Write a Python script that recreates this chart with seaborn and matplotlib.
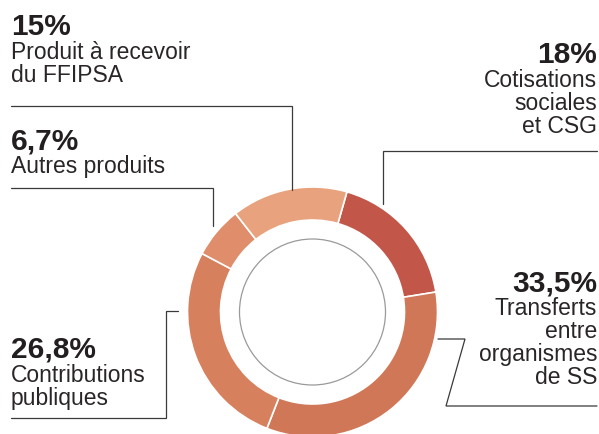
import matplotlib
matplotlib.use("Agg")
import matplotlib.pyplot as plt
import seaborn as sns

# Data
categories = ["Cotisations sociales et CSG", "Transferts entre organismes de SS",
              "Contributions publiques", "Autres produits", "Produit à recevoir du FFIPSA"]
values = [18.0, 33.5, 26.8, 6.7, 15.0]
pct_labels = ["18%", "33,5%", "26,8%", "6,7%", "15%"]
colors = ["#c25749", "#d07757", "#d7805d", "#df8d6a", "#e8a27d"]

sns.set_theme(style="white")
plt.rcParams['font.family'] = ['Liberation Sans', 'DejaVu Sans']

W, H = 599, 435
fig = plt.figure(figsize=(W / 100, H / 100), dpi=100)
ax = fig.add_axes([0, 0, 1, 1])

def Y(p):
    return H - p

cx, cy = 312.5, Y(313)
R_out, R_in = 125, 92
ax.pie(values, colors=sns.color_palette(colors), startangle=74, counterclock=False,
       radius=R_out, center=(cx, cy), frame=False,
       wedgeprops=dict(width=R_out - R_in, edgecolor="white", linewidth=1.2))
ax.add_patch(plt.Circle((cx, cy), 73, fill=False, edgecolor="#9a9a9a", linewidth=0.9))
ax.set_xlim(0, W)
ax.set_ylim(0, H)
ax.set_aspect("auto")
ax.axis("off")

line_kw = dict(color="#3a3a3a", linewidth=0.9, solid_joinstyle="miter")
def poly(pts):
    xs = [p[0] for p in pts]
    ys = [Y(p[1]) for p in pts]
    ax.plot(xs, ys, **line_kw)

poly([(11, 107), (292, 107), (292, 191)])
poly([(11, 189), (213, 189), (213, 227)])
poly([(597, 152), (383, 152), (383, 205)])
poly([(438, 340), (465, 340), (446, 407), (597, 407)])
poly([(178, 312), (166, 312), (166, 419), (11, 419)])

big = dict(fontsize=21.5, fontweight="bold", color="#231f20", va="baseline")
small = dict(fontsize=16.5, color="#2a2627", va="baseline")

def block(x, ha, pct, base, lines, step=23):
    ax.text(x, Y(base), pct, ha=ha, **big)
    for i, t in enumerate(lines):
        ax.text(x, Y(base + 24 + i * step), t, ha=ha, **small)

block(11, "left", pct_labels[4], 35, ["Produit à recevoir", "du FFIPSA"])
block(11, "left", pct_labels[3], 149, ["Autres produits"])
block(11, "left", pct_labels[2], 358, ["Contributions", "publiques"])
block(597, "right", pct_labels[0], 63, ["Cotisations", "sociales", "et CSG"])
block(597, "right", pct_labels[1], 291, ["Transferts", "entre", "organismes", "de SS"])

fig.savefig("out.png", dpi=100)
